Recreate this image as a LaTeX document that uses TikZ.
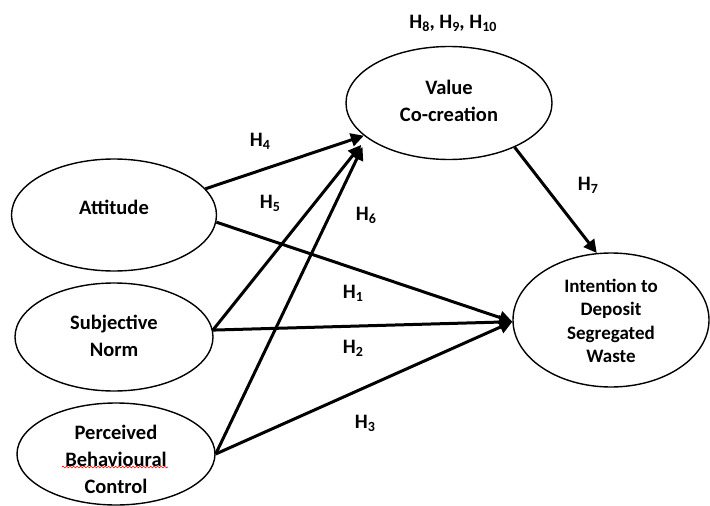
\documentclass[tikz,border=0pt]{standalone}
\usepackage{fontspec}
\setmainfont{Carlito}
\usetikzlibrary{shapes.geometric,arrows.meta,decorations.pathmorphing}
\newcommand\hsub[1]{H\raisebox{-0.15em}{\fontsize{14}{14}\selectfont #1}}
\begin{document}
\begin{tikzpicture}[x=1pt,y=-1pt,
  ell/.style={draw, ellipse, line width=1.4pt, inner sep=0pt},
  txt/.style={font=\fontsize{20.5}{27}\selectfont\bfseries, align=center, inner sep=0pt},
  itxt/.style={font=\fontsize{19}{23.5}\selectfont\bfseries, align=center, inner sep=0pt},
  hyp/.style={font=\fontsize{20.5}{24}\selectfont\bfseries, inner sep=0pt},
  arr/.style={line width=3pt, -{Triangle[length=13pt,width=13pt]}}]

\useasboundingbox (0,0) rectangle (710,506);

% ellipses
\node[ell, minimum width=205pt, minimum height=112pt] (att) at (114,215) {};
\node[ell, minimum width=198pt, minimum height=108pt] (sn)  at (114,337) {};
\node[ell, minimum width=198pt, minimum height=102pt] (pbc) at (116,454) {};
\node[ell, minimum width=206pt, minimum height=113pt] (val) at (449,103) {};
\node[ell, minimum width=196pt, minimum height=134pt] (int) at (611,320) {};

% texts
\node[txt] (attt) at ([yshift=8pt]att.center) {Attitude};
\node[txt] (snt)  at ([yshift=1pt]sn.center) {Subjective\\Norm};
\node[txt] (pbct) at ([yshift=-5pt]pbc.center) {Perceived\\Behavioural\\Control};
\node[txt] (valt) at ([yshift=2pt]val.center) {Value\\Co-creation};
\node[itxt] (intt) at ([yshift=-1pt]int.center) {Intention to\\Deposit\\Segregated\\Waste};

% spell-check squiggle
\draw[red, line width=0.6pt, decorate, decoration={snake, amplitude=0.9pt, segment length=3.5pt}]
  (62,467) -- (168,467);

% arrows
\draw[arr] (att.16) -- (val.201);
\draw[arr, shorten >=9pt] (sn.4) -- (val.203);
\draw[arr, shorten >=10pt] (pbc.0) -- (val.203);
\draw[arr] (att.-4) -- (int.181);
\draw[arr] (sn.4) -- (int.181);
\draw[arr] (pbc.0) -- (int.181);
\draw[arr] (val.-34) -- (int.102);

% hypothesis labels
\node[hyp] (h4) at (260,141) {\hsub{4}};
\node[hyp] (h5) at (270,203) {\hsub{5}};
\node[hyp] (h6) at (366,215) {\hsub{6}};
\node[hyp] (h7) at (588,185) {\hsub{7}};
\node[hyp] (h1) at (353,293) {\hsub{1}};
\node[hyp] (h2) at (353,348) {\hsub{2}};
\node[hyp] (h3) at (365,423) {\hsub{3}};
\node[hyp] (h8) at (453,23) {\hsub{8}, \hsub{9}, \hsub{10}};
\end{tikzpicture}
\end{document}
